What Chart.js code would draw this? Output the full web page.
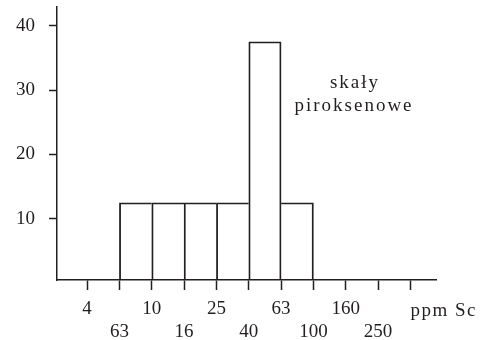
<!DOCTYPE html>
<html lang="pl">
<head>
  <meta charset="UTF-8">
  <title>Sc – skały piroksenowe</title>
  <script src="https://cdn.jsdelivr.net/npm/chart.js"></script>
  <style>
    html, body {
      margin: 0;
      padding: 0;
      background: #fff;
    }
    .wrap {
      width: 487px;
      height: 340px;
      position: relative;
    }
  </style>
</head>
<body>
  <div class="wrap">
    <canvas id="histo"></canvas>
  </div>

  <script>
    // granice klas (ppm Sc), pokazane na osi na przemian w dwóch rzędach
    const classLabels = ['4', '63', '10', '16', '25', '40', '63', '100', '160', '250'];
    // słupki: środek klasy (indeks granicy + 0.5) i udział w %
    const binCenters = [1.5, 2.5, 3.5, 4.5, 5.5, 6.5];
    const binValues = [12.5, 12.5, 12.5, 12.5, 37.5, 12.5];
    const yTicks = [10, 20, 30, 40];
    const unitLabel = 'ppm Sc';
    const noteLines = ['skały', 'piroksenowe'];

    const ink = '#231f20';
    const serif = "'Liberation Serif', 'DejaVu Serif', serif";
    const lw = 1.2;

    // sąsiednie słupki mają wspólną krawędź - rysujemy ją tylko raz
    function barBorder(ctx) {
      const i = ctx.dataIndex;
      const cur = binValues[i];
      const prev = binValues[i - 1];
      const next = binValues[i + 1];
      return {
        top: lw,
        bottom: 0,
        left: (prev === undefined || prev <= cur) ? lw : 0,
        right: (next === undefined || next < cur) ? lw : 0
      };
    }

    const labelsPlugin = {
      id: 'extraText',
      afterDraw(chart) {
        const ctx = chart.ctx;
        const xs = chart.scales.x;
        ctx.save();
        ctx.fillStyle = ink;
        ctx.font = '19px ' + serif;
        ctx.letterSpacing = '1.5px';
        ctx.textBaseline = 'alphabetic';
        // jednostka przy ostatniej kresce
        ctx.textAlign = 'left';
        ctx.fillText(unitLabel, xs.getPixelForValue(classLabels.length), 316);
        // opis
        ctx.letterSpacing = '2px';
        ctx.textAlign = 'center';
        ctx.fillText(noteLines[0], 355, 88);
        ctx.fillText(noteLines[1], 354, 111);
        ctx.restore();
      }
    };

    new Chart(document.getElementById('histo'), {
      type: 'bar',
      data: {
        datasets: [{
          data: binCenters.map((x, i) => ({ x, y: binValues[i] })),
          backgroundColor: 'rgba(255,255,255,0)',
          borderColor: ink,
          borderWidth: barBorder,
          borderSkipped: false,
          barPercentage: 1,
          categoryPercentage: 1
        }]
      },
      options: {
        responsive: true,
        maintainAspectRatio: false,
        animation: false,
        layout: { padding: { top: 7, right: 51, left: 0, bottom: 0 } },
        plugins: {
          legend: { display: false },
          tooltip: { enabled: false }
        },
        scales: {
          x: {
            type: 'linear',
            offset: false,
            min: -0.93,
            max: 10.79,
            afterBuildTicks(scale) {
              scale.ticks = classLabels.concat(['']).map((_, i) => ({ value: i }));
            },
            afterFit(scale) {
              scale.height = 60;
              scale.paddingLeft = 0;
              scale.paddingRight = 0;
            },
            border: { color: ink, width: 1.5 },
            grid: {
              offset: false,
              drawOnChartArea: false,
              drawTicks: true,
              tickLength: 10,
              tickColor: ink,
              tickWidth: 1.5
            },
            ticks: {
              autoSkip: false,
              maxRotation: 0,
              padding: 8,
              color: ink,
              font: { family: serif, size: 19, lineHeight: 1.2 },
              callback(value) {
                const lab = classLabels[value];
                if (lab === undefined) return '';
                return value % 2 === 0 ? [lab, ''] : ['', lab];
              }
            }
          },
          y: {
            min: 0.5,
            max: 42.9,
            afterBuildTicks(scale) {
              scale.ticks = yTicks.map(v => ({ value: v }));
            },
            afterFit(scale) {
              scale.width = 57;
              scale.paddingTop = 0;
              scale.paddingBottom = 0;
            },
            border: { color: ink, width: 1.5 },
            grid: {
              drawOnChartArea: false,
              drawTicks: true,
              tickLength: 8,
              tickColor: ink,
              tickWidth: 1.5
            },
            ticks: {
              padding: 14,
              color: ink,
              font: { family: serif, size: 19 }
            }
          }
        }
      },
      plugins: [labelsPlugin]
    });
  </script>
</body>
</html>
